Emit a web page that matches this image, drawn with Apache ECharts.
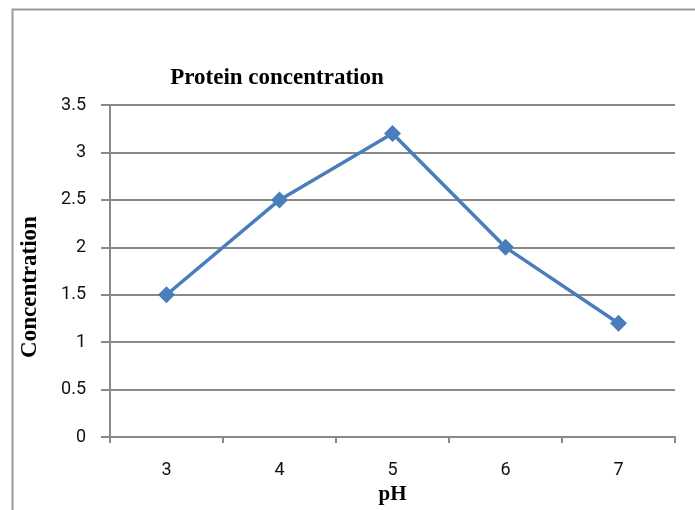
<!DOCTYPE html>
<html>
<head>
<meta charset="utf-8">
<script src="https://cdn.jsdelivr.net/npm/echarts@6/dist/echarts.min.js"></script>
<style>html,body{margin:0;padding:0;background:#fff;overflow:hidden}#c{width:695px;height:510px}</style>
</head>
<body>
<div id="c"></div>
<script>
const categories = ['3', '4', '5', '6', '7'];
const concentration = [1.5, 2.5, 3.2, 2.0, 1.2];
const yTicks = [0, 0.5, 1, 1.5, 2, 2.5, 3, 3.5];

const chart = echarts.init(document.getElementById('c'));
const serif = '"Liberation Serif", "Times New Roman", serif';
chart.setOption({
  animation: false,
  backgroundColor: '#fff',
  graphic: [{
    type: 'rect', left: 10, top: 7, silent: true,
    shape: { width: 720, height: 540 },
    style: { fill: 'none', stroke: '#999', lineWidth: 2 }
  }, {
    type: 'text', x: 30, y: 287, rotation: Math.PI / 2, silent: true,
    style: {
      text: 'Concentration', fill: '#000',
      font: 'bold 23px ' + serif,
      textAlign: 'center', textVerticalAlign: 'middle'
    }
  }],
  title: {
    text: 'Protein concentration',
    left: 272, top: 62, textAlign: 'center',
    textStyle: { fontFamily: serif, fontWeight: 'bold', fontSize: 23, color: '#000' }
  },
  grid: { left: 110, right: 20, top: 105, bottom: 61 },
  xAxis: {
    type: 'category', data: categories, boundaryGap: true,
    name: 'pH', nameLocation: 'middle', nameGap: 42,
    nameTextStyle: { fontFamily: serif, fontWeight: 'bold', fontSize: 21, color: '#000' },
    axisLine: { lineStyle: { color: '#898989', width: 2 } },
    axisTick: { show: true, length: 6, lineStyle: { color: '#898989', width: 2 } },
    axisLabel: { fontFamily: 'Roboto, sans-serif', fontSize: 18, color: '#111', margin: 24 },
    splitLine: { show: false }
  },
  yAxis: {
    type: 'value', min: 0, max: 3.5, interval: 0.5,
    axisLine: { show: true, lineStyle: { color: '#898989', width: 2 } },
    axisTick: { show: true, length: 9, lineStyle: { color: '#898989', width: 2 } },
    axisLabel: {
      fontFamily: 'Roboto, sans-serif', fontSize: 18, color: '#111', margin: 24,
      formatter: v => yTicks.includes(v) ? String(v) : ''
    },
    splitLine: { lineStyle: { color: '#898989', width: 2 } }
  },
  series: [{
    type: 'line', data: concentration,
    symbol: 'diamond', symbolSize: 17,
    lineStyle: { color: '#4a7ebb', width: 3.5 },
    itemStyle: { color: '#4a7ebb' }
  }]
});
</script>
</body>
</html>
